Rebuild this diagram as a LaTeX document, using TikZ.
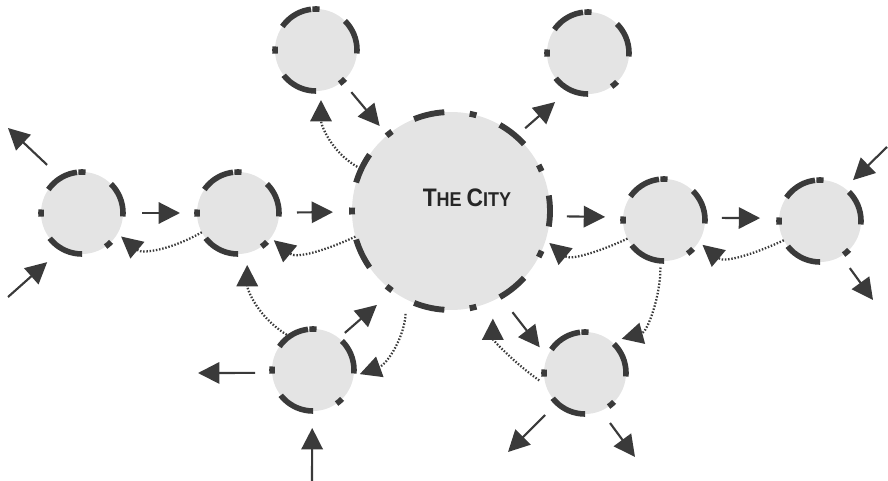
\documentclass[tikz,border=0pt]{standalone}
\usepackage{fontspec}
\usepackage{graphicx}
\setsansfont{Liberation Sans}
\usetikzlibrary{arrows.meta}
\definecolor{ringgray}{HTML}{3A3A3A}
\definecolor{discfill}{HTML}{E4E4E4}

\begin{document}
\begin{tikzpicture}[
  x=0.75pt, y=0.75pt,
  town/.style={circle, fill=discfill, draw=ringgray, line width=4.2pt,
               minimum size=61.5pt, inner sep=0pt, outer sep=0pt,
               dash pattern=on 26.84pt off 21.47pt on 5.37pt off 1.07pt
                            on 25.76pt off 16.10pt on 5.37pt off 17.71pt
                            on 27.91pt off 18.78pt on 5.37pt off 21.47pt,
               dash phase=2.68pt},
  hub/.style={circle, fill=discfill, draw=ringgray, line width=4.4pt,
              minimum size=148.5pt, inner sep=0pt, outer sep=0pt,
              dash pattern=on 23.33pt off 19.07pt on 5.18pt off 19.07pt,
              dash phase=11.66pt},
  arr/.style={-{Triangle[length=16pt,width=16pt]}, line width=1.6pt, ringgray},
  dotarr/.style={-{Triangle[length=16pt,width=16pt]}, line width=1.7pt, ringgray,
                 dash pattern=on 1.1pt off 1.3pt}
]
\useasboundingbox (0,0) rectangle (888,-481);
\node[hub]  (city)  at (451,-211) {};
\node[font=\sffamily, text=black!85, anchor=base] (citylabel) at (467,-206)
  {\scalebox{0.9}[1]{\fontsize{19}{19}\selectfont\bfseries T\fontsize{15}{15}\selectfont HE
   \fontsize{19}{19}\selectfont C\fontsize{15}{15}\selectfont ITY}};
\node[town] (farw)  at (82,-213)  {};
\node[town] (nearw) at (238,-213) {};
\node[town] (topl)  at (316,-50)  {};
\node[town] (topr)  at (588,-53)  {};
\node[town] (neare) at (664,-220) {};
\node[town] (fare)  at (820,-221) {};
\node[town] (botl)  at (313,-370) {};
\node[town] (botr)  at (585,-373) {};
\coordinate (farwout)  at (8,-128);
\coordinate (farwin)   at (8,-297);
\coordinate (farein)   at (887,-147);
\coordinate (fareout)  at (873,-300);
\coordinate (botlout)  at (198,-373);
\coordinate (botlin)   at (312,-481);
\coordinate (botrouta) at (508,-452);
\coordinate (botroutb) at (635,-457);
% Flows towards and away from the city
\draw[arr, shorten <=14.25pt, shorten >=12.75pt] (farw) -- (nearw);
\draw[arr, shorten <=13.5pt, shorten >=14.25pt] (nearw) -- (city);
\draw[arr, shorten <=14.2pt] (farw.121) -- (farwout);
\draw[arr, shorten >=15pt] (farwin) -- (farw.241);
\draw[arr, shorten <=10.5pt, shorten >=9pt] (topl) -- (city);
\draw[arr, shorten <=9.2pt, shorten >=14.25pt] (city.49) -- (topr.243);
\draw[arr, shorten <=12.75pt, shorten >=13.5pt] (city.-3) -- (neare.176);
\draw[arr, shorten <=12.75pt, shorten >=14.25pt] (neare.3) -- (fare.176);
\draw[arr, shorten >=8.8pt] (farein) -- (fare.53);
\draw[arr, shorten <=11.1pt] (fare.-59) -- (fareout);
\draw[arr, shorten <=6pt, shorten >=15.8pt] (botl.51) -- (city.234);
\draw[arr, shorten <=12.75pt] (botl.184) -- (botlout);
\draw[arr, shorten >=12.75pt] (botlin) -- (botl.-91);
\draw[arr, shorten <=14.7pt, shorten >=9.2pt] (city.-60) -- (botr.157);
\draw[arr, shorten <=12.75pt] (botr.227) -- (botrouta);
\draw[arr, shorten <=11.4pt] (botr.-67) -- (botroutb);
% Return flows
\draw[dotarr, shorten >=3.5pt] (nearw.208) to[out=210, in=-40] (farw.-30);
\draw[dotarr, shorten >=3pt] (city.195) to[out=205, in=-40] (nearw.-37);
\draw[dotarr, shorten <=3.5pt, shorten >=7pt] (city.155) to[out=150, in=-90] (topl.-83);
\draw[dotarr, shorten >=3.5pt] (neare.207) to[out=205, in=-40] (city.-17);
\draw[dotarr, shorten >=3.6pt] (fare.208) to[out=205, in=-40] (neare.-32);
\draw[dotarr, shorten <=5pt, shorten >=8pt] (neare.-95) to[out=-90, in=15] (botr.50);
\draw[dotarr, shorten <=11pt, shorten >=5pt] (city.243) to[out=-92, in=20] (botl.-9);
\draw[dotarr, shorten >=9pt] (botl.125) to[out=150, in=-90] (nearw.-77);
\draw[dotarr, shorten <=6pt, shorten >=13.4pt] (botr.197) to[out=145, in=-90] (city.-65);
\end{tikzpicture}
\end{document}
